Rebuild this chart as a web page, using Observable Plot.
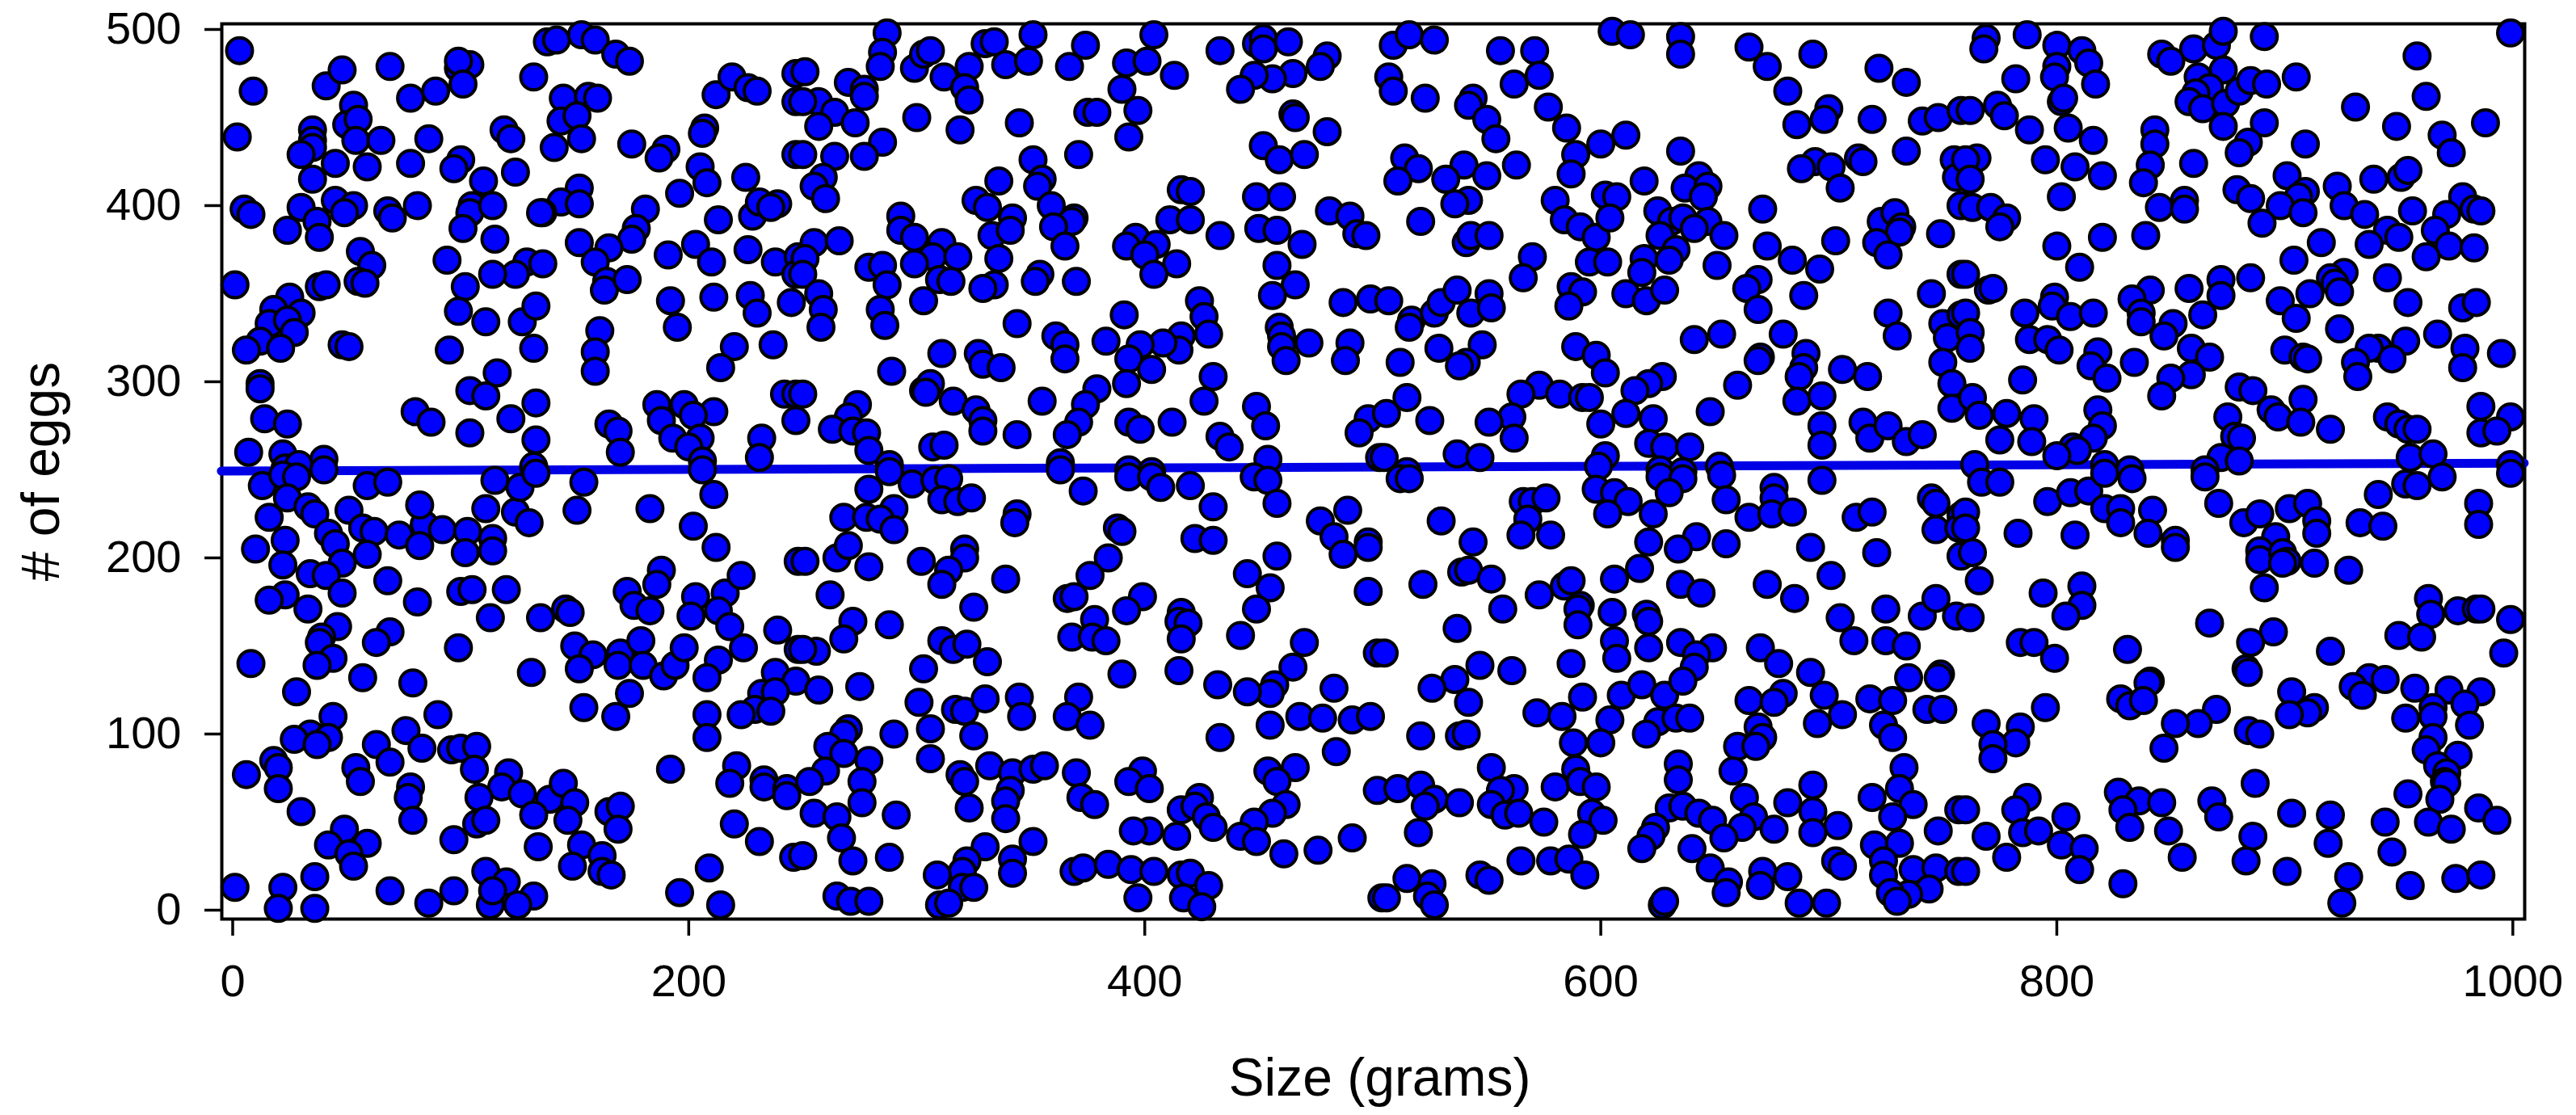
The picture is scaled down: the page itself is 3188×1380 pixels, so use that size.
<!DOCTYPE html>
<html><head><meta charset="utf-8">
<script src="https://cdn.jsdelivr.net/npm/d3@7"></script>
<script src="https://cdn.jsdelivr.net/npm/@observablehq/plot@0.6"></script>
<style>html,body{margin:0;padding:0;background:#fff}svg{display:block}</style>
</head><body><div id="chart"></div>
<script>
const xTicks=[0,200,400,600,800,1000];
const yTicks=[0,100,200,300,400,500];
const fitSize=[-5,1005];
const fitEggs=[249.3,253.8];
const upperA=[[3,488],[9,465],[2,439],[41,468],[48,477],[69,479],[99,478],[104,480],[99,482],[101,469],[89,465],[78,461],[132,473],[138,493],[142,494],[153,497],[159,494],[168,486],[174,482],[53,457],[50,446],[55,449],[35,443],[35,437],[35,433],[30,429],[54,437],[65,437],[86,438],[45,424],[59,422],[78,424],[35,415],[100,426],[97,421],[119,443],[122,438],[124,419],[110,414],[145,461],[156,462],[160,461],[144,448],[151,451],[153,438],[141,433],[175,435],[190,432],[187,427],[207,444],[206,441],[205,422],[208,413],[225,416],[196,407],[212,463],[219,473],[226,467],[230,465],[247,475],[247,459],[247,429],[5,398],[8,395],[30,399],[45,403],[53,400],[49,396],[37,391],[24,386],[38,382],[68,397],[70,393],[81,400],[105,400],[104,396],[114,400],[101,387],[115,381],[152,410],[144,402],[152,401],[136,396],[135,396],[181,398],[177,387],[175,381],[152,379],[165,376],[159,368],[191,372],[203,378],[210,368],[226,375],[213,392],[228,394],[231,402],[239,401],[236,399],[238,368],[248,371],[247,361],[56,374],[61,366],[55,357],[58,356],[94,369],[129,368],[136,367],[124,361],[114,361],[102,354],[38,354],[41,355],[1,355],[25,348],[18,341],[30,339],[16,333],[24,335],[27,328],[12,323],[6,318],[21,319],[48,321],[51,320],[99,340],[111,334],[127,334],[133,343],[132,319],[95,318],[164,357],[163,352],[173,358],[192,346],[195,331],[211,348],[227,349],[230,339],[245,345],[161,329],[159,317],[159,306],[220,320],[237,321],[214,308],[12,299],[12,296],[116,305],[104,295],[111,292],[133,288],[122,279],[104,271],[133,267],[132,252],[80,283],[87,277],[14,279],[24,276],[7,260],[22,259],[40,256],[23,251],[29,253],[186,287],[198,287],[211,283],[188,278],[202,281],[193,268],[205,268],[200,263],[206,255],[232,268],[231,257],[165,276],[169,272],[170,260],[242,293],[247,293],[247,278]];
const lowerA=[[13,241],[22,247],[28,246],[24,234],[33,229],[36,225],[16,223],[51,227],[59,241],[68,243],[40,250],[23,210],[10,205],[22,196],[42,214],[45,208],[48,197],[57,217],[62,215],[59,202],[73,213],[84,219],[82,230],[82,207],[92,216],[103,215],[102,203],[114,211],[114,204],[111,228],[124,226],[130,220],[115,244],[126,240],[133,248],[154,243],[151,227],[183,228],[211,236],[206,250],[202,218],[212,206],[248,198],[34,191],[41,190],[48,180],[68,187],[23,179],[16,176],[33,171],[81,175],[100,181],[105,182],[120,182],[113,166],[135,166],[146,171],[148,169],[46,161],[39,155],[38,152],[44,143],[37,139],[69,158],[63,152],[8,140],[57,132],[79,129],[28,124],[99,149],[131,135],[188,193],[186,185],[173,181],[176,173],[183,170],[203,178],[201,167],[216,180],[223,190],[213,170],[218,161],[239,159],[150,150],[158,145],[152,137],[170,146],[169,139],[179,153],[180,139],[189,133],[194,139],[198,149],[213,142],[208,132],[224,149],[248,148],[238,135],[247,130],[232,123],[238,124],[229,114],[223,111],[236,113],[208,111],[208,98],[174,123],[154,115],[168,110],[90,111],[44,110],[34,100],[27,97],[42,98],[37,94],[76,102],[63,94],[83,92],[69,84],[96,91],[100,92],[107,93],[106,80],[18,85],[20,81],[6,77],[20,69],[54,81],[56,73],[30,56],[78,70],[77,64],[79,51],[121,78],[118,70],[108,64],[127,66],[139,63],[145,72],[150,61],[132,54],[147,51],[107,49],[111,51],[165,56],[170,59],[169,46],[192,80],[221,82],[218,72],[233,74],[233,70],[243,69],[243,65],[220,49],[231,39],[246,30],[97,40],[134,36],[153,37],[162,31],[149,25],[162,22],[166,20],[49,46],[42,37],[59,38],[51,32],[53,25],[36,19],[22,13],[1,13],[20,1],[36,1],[69,11],[86,4],[97,11],[111,22],[120,16],[132,8],[113,3],[125,3],[114,11],[209,24],[196,10],[214,3]];
const upperB=[[287,498],[285,487],[284,479],[299,478],[303,486],[306,488],[312,473],[323,479],[330,492],[334,493],[339,480],[349,482],[351,497],[374,491],[367,479],[392,481],[401,482],[404,497],[413,474],[390,466],[397,454],[393,439],[375,453],[379,453],[433,488],[449,492],[452,495],[452,489],[463,493],[480,485],[477,479],[465,475],[456,472],[448,474],[442,466],[251,476],[270,470],[277,466],[277,462],[321,467],[323,460],[257,459],[250,459],[264,453],[273,447],[257,445],[300,450],[319,443],[345,447],[285,436],[277,428],[264,428],[250,429],[259,416],[255,411],[260,404],[351,426],[355,415],[353,411],[371,429],[336,414],[326,403],[331,399],[342,393],[359,400],[369,393],[368,391],[360,388],[365,377],[333,383],[341,386],[293,394],[293,386],[299,382],[311,379],[255,379],[266,380],[251,370],[250,361],[307,371],[318,371],[299,367],[279,365],[285,366],[287,355],[310,358],[315,357],[303,346],[336,370],[334,355],[329,353],[354,361],[352,357],[370,357],[257,350],[259,341],[258,331],[284,341],[286,332],[344,333],[391,338],[396,382],[392,377],[405,378],[400,372],[414,367],[404,361],[411,392],[420,392],[416,409],[420,408],[433,383],[449,405],[460,405],[452,434],[459,426],[470,429],[465,452],[466,450],[480,442],[450,387],[458,386],[469,378],[458,366],[466,355],[456,349],[481,397],[490,394],[493,384],[497,383],[487,345],[499,347],[424,346],[426,337],[428,327],[416,326],[415,318],[408,322],[398,321],[393,313],[403,307],[392,299],[383,323],[361,326],[365,321],[365,313],[311,316],[327,316],[329,310],[337,308],[289,306],[459,331],[460,326],[460,320],[472,322],[462,312],[490,322],[488,312],[430,303],[426,289],[449,286],[453,275],[498,279],[494,271],[433,269],[437,263],[412,277],[393,277],[398,273],[379,296],[374,287],[371,277],[366,270],[355,289],[344,270],[363,254],[393,250],[403,249],[454,256],[503,257],[303,295],[306,299],[304,294],[316,289],[326,284],[329,278],[329,272],[274,287],[270,280],[263,273],[272,272],[278,271],[279,261],[288,253],[307,263],[312,264],[250,293]];
const lowerB=[[279,239],[288,249],[298,242],[308,244],[314,245],[311,233],[318,232],[324,234],[290,228],[268,223],[278,223],[284,222],[290,216],[344,225],[343,220],[373,238],[363,250],[393,246],[403,246],[407,240],[420,241],[430,229],[448,246],[454,244],[458,231],[477,221],[489,227],[483,212],[487,202],[498,209],[498,206],[388,217],[390,215],[384,200],[376,190],[422,211],[430,210],[458,201],[445,191],[455,183],[449,171],[498,181],[442,156],[470,152],[465,138],[457,128],[455,123],[445,124],[432,128],[483,126],[502,146],[251,198],[265,200],[270,207],[279,195],[302,198],[321,205],[321,200],[314,193],[311,185],[339,188],[262,179],[325,172],[366,177],[369,178],[399,178],[392,170],[416,169],[415,164],[419,163],[416,154],[415,136],[390,134],[378,165],[368,155],[377,155],[383,153],[272,164],[288,162],[268,154],[256,147],[250,148],[311,153],[316,148],[322,151],[331,141],[303,137],[257,125],[275,127],[301,118],[317,114],[321,113],[330,120],[345,121],[346,110],[371,121],[366,110],[376,105],[433,98],[455,105],[468,110],[478,109],[491,108],[499,110],[484,90],[270,103],[268,100],[261,93],[268,89],[290,100],[306,103],[325,99],[306,86],[279,85],[260,79],[253,73],[276,73],[319,77],[321,73],[332,82],[342,78],[351,80],[356,82],[370,78],[341,68],[339,62],[339,52],[323,58],[276,61],[255,55],[265,53],[291,54],[267,41],[272,28],[288,30],[250,31],[372,64],[378,60],[399,79],[393,73],[402,69],[424,64],[416,57],[422,59],[427,53],[430,47],[414,42],[402,45],[395,45],[454,79],[466,81],[458,73],[462,60],[456,55],[448,50],[442,42],[449,39],[461,32],[476,34],[491,41],[502,68],[351,39],[330,36],[342,29],[342,21],[322,28],[320,22],[309,20],[320,13],[325,13],[310,3],[314,4],[265,8],[271,5],[279,5],[369,22],[373,24],[384,26],[394,23],[404,22],[416,20],[420,21],[428,14],[397,7],[417,7],[425,2],[504,7]];
const upperC=[[509,491],[516,497],[527,494],[556,488],[571,488],[573,474],[562,469],[507,473],[509,465],[523,461],[544,461],[542,457],[550,449],[554,438],[577,456],[585,444],[600,435],[611,440],[605,499],[613,497],[635,496],[635,486],[665,490],[673,479],[693,486],[682,465],[722,478],[734,470],[700,455],[698,449],[686,446],[719,449],[741,448],[748,450],[758,454],[635,431],[734,431],[713,427],[715,425],[694,425],[688,421],[701,422],[705,410],[755,426],[756,416],[589,429],[587,418],[563,423],[514,427],[520,421],[511,414],[540,423],[532,415],[550,417],[542,403],[536,401],[521,391],[619,414],[643,417],[637,410],[647,411],[645,405],[602,406],[607,405],[580,403],[584,392],[591,388],[598,382],[604,393],[625,397],[631,391],[636,393],[647,391],[641,387],[626,383],[654,383],[671,398],[673,377],[684,369],[696,364],[703,380],[723,391],[729,396],[732,388],[731,385],[721,379],[726,372],[749,384],[758,400],[633,375],[619,370],[630,369],[618,362],[595,368],[603,368],[570,371],[566,359],[541,379],[543,383],[551,383],[651,366],[669,358],[664,353],[669,341],[689,349],[758,361],[745,350],[587,354],[592,351],[586,343],[611,350],[620,346],[628,352],[507,346],[517,335],[516,331],[527,339],[530,345],[537,352],[543,339],[551,350],[552,342],[529,319],[548,321],[541,311],[538,309],[512,311],[589,320],[598,315],[602,305],[641,324],[653,327],[680,327],[690,316],[670,314],[669,312],[689,308],[687,303],[660,298],[726,339],[730,326],[750,333],[752,325],[758,338],[706,307],[717,303],[750,311],[754,299],[754,285],[686,289],[697,292],[627,303],[621,299],[615,295],[573,298],[565,293],[582,293],[592,291],[595,291],[611,282],[623,279],[648,283],[600,276],[561,280],[551,277],[562,268],[515,291],[525,278],[506,282],[537,259],[547,257],[621,265],[628,263],[639,263],[602,258],[599,252],[697,275],[697,264],[715,277],[718,268],[726,275],[734,266],[741,270],[652,252],[626,250],[636,249],[515,249],[505,257]];
const lowerC=[[512,245],[516,245],[530,221],[544,209],[566,232],[570,232],[576,234],[568,222],[565,213],[578,213],[598,239],[606,237],[612,232],[603,225],[623,225],[626,246],[636,245],[630,237],[653,247],[655,233],[665,223],[676,240],[676,234],[675,225],[684,226],[697,244],[712,223],[719,226],[745,234],[747,231],[747,216],[758,224],[757,217],[621,209],[642,212],[634,205],[655,208],[617,194],[692,206],[721,203],[701,190],[758,201],[522,185],[539,192],[542,193],[552,188],[557,171],[537,160],[573,179],[584,184],[587,187],[606,188],[635,185],[644,180],[673,185],[685,177],[591,173],[590,171],[590,162],[605,169],[620,168],[621,164],[606,153],[607,143],[621,149],[635,152],[649,149],[642,145],[641,138],[670,149],[678,140],[692,135],[705,166],[725,171],[711,153],[725,153],[734,150],[741,167],[747,177],[756,167],[505,146],[547,139],[536,131],[526,126],[561,136],[587,140],[542,118],[521,99],[538,99],[541,100],[572,112],[583,110],[592,121],[609,122],[618,128],[628,122],[636,130],[604,108],[625,107],[633,109],[639,109],[620,100],[588,95],[600,95],[665,119],[680,123],[676,118],[698,122],[706,111],[695,106],[735,132],[749,134],[748,132],[718,120],[728,119],[743,114],[750,114],[724,105],[728,98],[669,104],[671,98],[660,93],[668,93],[552,81],[634,83],[634,74],[658,79],[733,81],[693,71],[731,69],[719,64],[737,60],[728,53],[757,57],[748,45],[511,69],[521,71],[527,63],[523,59],[538,61],[562,69],[556,68],[552,60],[558,54],[564,55],[575,50],[520,44],[589,80],[580,70],[591,73],[598,70],[596,55],[601,51],[592,43],[663,64],[682,61],[693,56],[704,48],[693,44],[667,53],[662,47],[676,46],[630,58],[636,59],[643,55],[649,51],[654,41],[624,47],[622,42],[618,35],[640,35],[565,28],[578,28],[586,29],[593,20],[547,20],[551,17],[515,18],[526,15],[506,7],[524,8],[527,3],[648,24],[656,16],[655,10],[671,22],[670,14],[682,19],[687,4],[699,4],[627,3],[628,5],[703,28],[706,25],[720,37],[731,38],[724,28],[724,20],[737,23],[747,24],[757,22],[744,12],[735,9],[727,10],[730,5]];
const upperD=[[769,495],[768,489],[787,497],[800,491],[811,488],[814,481],[800,479],[799,473],[817,469],[782,472],[846,486],[850,482],[860,489],[870,491],[873,499],[891,496],[958,485],[999,498],[862,473],[873,477],[867,467],[861,464],[858,459],[864,455],[874,458],[880,465],[885,471],[892,469],[905,473],[802,459],[803,461],[774,457],[777,451],[762,454],[788,443],[805,444],[816,437],[873,445],[891,447],[884,436],[880,430],[909,435],[931,456],[962,462],[949,445],[969,440],[973,430],[988,447],[843,443],[843,435],[841,423],[838,413],[860,424],[795,426],[808,422],[820,417],[765,427],[760,426],[762,415],[802,405],[763,399],[771,399],[778,393],[775,388],[845,399],[856,403],[856,398],[839,383],[820,382],[800,377],[810,365],[901,417],[879,409],[885,404],[909,408],[906,405],[898,400],[908,396],[890,390],[923,411],[926,400],[935,395],[939,415],[951,416],[954,420],[956,397],[978,405],[983,398],[986,397],[971,395],[966,386],[945,386],[950,382],[937,378],[916,379],[904,369],[972,377],[983,376],[962,371],[760,361],[770,352],[772,353],[926,362],[920,359],[922,356],[924,351],[911,350],[898,346],[905,336],[885,359],[872,358],[872,349],[858,353],[864,338],[841,352],[833,347],[837,339],[837,334],[851,333],[847,326],[799,348],[798,343],[786,339],[806,337],[816,339],[760,339],[788,324],[796,324],[801,318],[762,328],[762,319],[818,317],[815,309],[822,302],[834,311],[785,301],[859,319],[867,314],[859,304],[850,302],[846,292],[945,359],[954,345],[978,342],[984,345],[924,330],[967,327],[953,323],[941,319],[937,319],[931,311],[947,313],[932,303],[979,319],[978,308],[995,316],[900,318],[908,314],[910,313],[880,297],[886,295],[908,290],[894,284],[897,280],[907,277],[920,273],[875,280],[878,269],[881,268],[872,257],[880,255],[865,250],[945,280],[950,276],[954,273],[958,273],[955,257],[965,259],[986,286],[999,280],[986,271],[993,272],[999,253],[763,291],[766,281],[778,282],[790,279],[775,267],[789,266],[818,284],[820,275],[816,268],[807,263],[809,261],[800,258],[821,253],[764,253],[832,250]];
const lowerD=[[767,243],[775,243],[760,226],[760,217],[763,203],[766,187],[762,166],[796,232],[806,237],[814,238],[821,248],[833,245],[821,228],[828,228],[828,220],[842,227],[840,214],[852,210],[852,206],[783,214],[808,213],[865,246],[871,231],[882,220],[889,225],[902,228],[910,231],[914,221],[914,214],[896,212],[889,204],[889,199],[899,203],[901,198],[899,197],[913,197],[891,183],[928,193],[941,236],[933,220],[943,218],[953,242],[958,241],[969,246],[999,248],[985,231],[985,219],[794,180],[811,184],[811,173],[804,167],[784,152],[790,152],[799,143],[831,148],[867,163],[895,158],[885,152],[883,137],[884,135],[920,147],[963,177],[964,168],[976,170],[984,171],[986,171],[999,165],[950,156],[960,155],[996,146],[841,130],[840,129],[828,120],[832,116],[838,119],[795,115],[769,106],[784,104],[782,95],[772,94],[772,86],[870,114],[862,106],[852,106],[847,92],[884,102],[889,100],[903,124],[913,115],[910,112],[902,111],[937,132],[930,127],[934,122],[944,131],[957,126],[972,125],[986,124],[979,117],[965,115],[953,109],[965,110],[981,105],[965,98],[962,91],[976,88],[967,82],[971,78],[970,73],[971,72],[954,66],[968,63],[887,72],[787,64],[782,57],[760,57],[827,67],[836,62],[846,61],[829,57],[832,47],[849,45],[868,62],[871,53],[903,55],[920,54],[944,50],[963,50],[973,46],[985,58],[993,51],[804,53],[785,44],[792,45],[769,42],[802,37],[812,35],[810,23],[778,30],[886,42],[919,38],[855,30],[883,28],[947,33],[901,22],[829,15],[760,22],[928,19],[955,14],[975,18],[986,20],[925,4]];

const points=[...upperA,...lowerA,...upperB,...lowerB,...upperC,...lowerC,...upperD,...lowerD];
const fit=fitSize.map((s,i)=>({s,e:fitEggs[i]}));
const font="'Liberation Sans',Arial,sans-serif";
const chart=Plot.plot({
  width:3188,height:1380,
  marginLeft:274,marginRight:64,marginTop:29,marginBottom:243,
  style:{fontFamily:font,background:"#fff",overflow:"visible"},
  x:{domain:[-4.78,1005.2]},
  y:{domain:[-5.05,503.2]},
  marks:[
    Plot.axisX({ticks:xTicks,tickFormat:d=>String(d),tickSize:21,tickPadding:35,fontSize:56,strokeWidth:3.5,stroke:"#000",label:null,fill:"#000"}),
    Plot.axisY({ticks:yTicks,tickFormat:d=>String(d),tickSize:21,tickPadding:29,fontSize:56,strokeWidth:3.5,stroke:"#000",label:null,fill:"#000"}),
    Plot.frame({stroke:"#000",strokeWidth:4}),
    Plot.line(fit,{x:"s",y:"e",stroke:"#0000e6",strokeWidth:11,strokeLinecap:"round"}),
    Plot.dot(points,{x:d=>d[0],y:d=>d[1],r:16,fill:"#0000ff",stroke:"#000",strokeWidth:4}),
    Plot.text(["Size (grams)"],{frameAnchor:"bottom",dx:8,dy:218,fontSize:66,fill:"#000",lineAnchor:"bottom"}),
    Plot.text(["# of eggs"],{frameAnchor:"left",rotate:-90,dx:-202,dy:0,fontSize:66,fill:"#000",textAnchor:"middle",lineAnchor:"bottom"})
  ]
});
document.getElementById("chart").append(chart);
</script></body></html>
